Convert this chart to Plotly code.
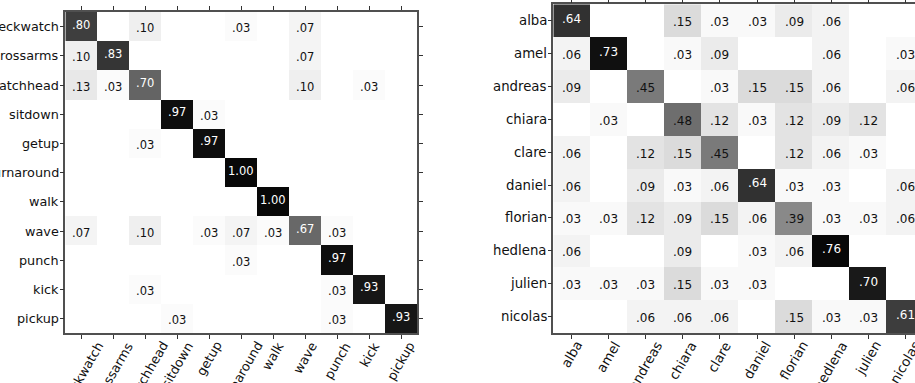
import plotly.graph_objects as go

# Action confusion matrix (rows: true class, columns: predicted class)
actions = ["checkwatch", "crossarms", "scratchhead", "sitdown", "getup",
           "turnaround", "walk", "wave", "punch", "kick", "pickup"]
action_conf = [
    [.80, 0, .10, 0, 0, .03, 0, .07, 0, 0, 0],
    [.10, .83, 0, 0, 0, 0, 0, .07, 0, 0, 0],
    [.13, .03, .70, 0, 0, 0, 0, .10, 0, .03, 0],
    [0, 0, 0, .97, .03, 0, 0, 0, 0, 0, 0],
    [0, 0, .03, 0, .97, 0, 0, 0, 0, 0, 0],
    [0, 0, 0, 0, 0, 1.00, 0, 0, 0, 0, 0],
    [0, 0, 0, 0, 0, 0, 1.00, 0, 0, 0, 0],
    [.07, 0, .10, 0, .03, .07, .03, .67, .03, 0, 0],
    [0, 0, 0, 0, 0, .03, 0, 0, .97, 0, 0],
    [0, 0, .03, 0, 0, 0, 0, 0, .03, .93, 0],
    [0, 0, 0, .03, 0, 0, 0, 0, .03, 0, .93],
]

# Actor confusion matrix
actors = ["alba", "amel", "andreas", "chiara", "clare",
          "daniel", "florian", "hedlena", "julien", "nicolas"]
actor_conf = [
    [.64, 0, 0, .15, .03, .03, .09, .06, 0, 0],
    [.06, .73, 0, .03, .09, 0, 0, .06, 0, .03],
    [.09, 0, .45, 0, .03, .15, .15, .06, 0, .06],
    [0, .03, 0, .48, .12, .03, .12, .09, .12, 0],
    [.06, 0, .12, .15, .45, 0, .12, .06, .03, 0],
    [.06, 0, .09, .03, .06, .64, .03, .03, 0, .06],
    [.03, .03, .12, .09, .15, .06, .39, .03, .03, .06],
    [.06, 0, 0, .09, 0, .03, .06, .76, 0, 0],
    [.03, .03, .03, .15, .03, .03, 0, 0, .70, 0],
    [0, 0, .06, .06, .06, 0, .15, .03, .03, .61],
]

# Reversed gray scale (white for 0, near black for the maximum)
gray_steps = [(0.0, 255), (0.04, 249), (0.10, 239), (0.13, 232), (0.20, 219),
              (0.51, 138), (0.59, 123), (0.63, 110), (0.70, 100), (0.80, 62),
              (0.84, 50), (0.93, 22), (1.0, 8)]
gray_scale = [[t, f"rgb({g},{g},{g})"] for t, g in gray_steps]

FONT = "DejaVu Sans"


def fmt(v):
    s = f"{v:.2f}"
    return s[1:] if s.startswith("0") else s


fig = go.Figure()

panels = [
    dict(labels=actions, z=action_conf, xa="x", ya="y", vmax=1.0,
         tick_size=12.8, cell_size=11.5),
    dict(labels=actors, z=actor_conf, xa="x2", ya="y2",
         vmax=max(max(r) for r in actor_conf),
         tick_size=13.3, cell_size=12),
]

annotations = []
for p in panels:
    fig.add_trace(go.Heatmap(
        z=p["z"], x=p["labels"], y=p["labels"],
        zmin=0, zmax=p["vmax"], colorscale=gray_scale, showscale=False,
        xaxis=p["xa"], yaxis=p["ya"], hoverinfo="skip",
    ))
    label_font = dict(family=FONT, size=p["tick_size"], color="#111111")
    # cell values
    for i, row_name in enumerate(p["labels"]):
        for j, col_name in enumerate(p["labels"]):
            v = p["z"][i][j]
            if v <= 0:
                continue
            dark = v / p["vmax"] > 0.65
            annotations.append(dict(
                x=col_name, y=row_name, xref=p["xa"], yref=p["ya"],
                text=fmt(v), showarrow=False,
                font=dict(family=FONT, size=p["cell_size"],
                          color="white" if dark else "#111111"),
                yshift=2 if dark else -1.5,
            ))
    for name in p["labels"]:
        # rotated column labels, centred under each tick
        annotations.append(dict(
            x=name, y=0, xref=p["xa"], yref=p["ya"] + " domain",
            text=name, showarrow=False, textangle=-60,
            xanchor="center", yanchor="top", yshift=-3,
            font=label_font,
        ))
        # row labels, right-aligned against the left ticks
        annotations.append(dict(
            x=0, y=name, xref=p["xa"] + " domain", yref=p["ya"],
            text=name, showarrow=False,
            xanchor="right", yanchor="middle", xshift=-4,
            font=label_font,
        ))

axis_common = dict(
    type="category", showgrid=False, zeroline=False, automargin=False,
    showline=True, linecolor="#505050", linewidth=1.5,
    ticks="outside", ticklen=4, tickwidth=1, tickcolor="#333333",
    showticklabels=False,
)

fig.update_layout(
    width=915, height=383,
    margin=dict(l=0, r=0, t=0, b=0),
    template="none",
    paper_bgcolor="white", plot_bgcolor="white",
    font=dict(family=FONT, color="#111111"),
    showlegend=False,
    annotations=annotations,
    xaxis=dict(axis_common, domain=[0.0714, 0.4561], anchor="y", mirror="ticks",
               range=[-0.5, 10.5]),
    yaxis=dict(axis_common, domain=[0.1298, 0.9687], anchor="x", mirror="ticks",
               range=[10.5, -0.5]),
    xaxis2=dict(axis_common, domain=[0.6047, 1.0], anchor="y2", mirror="ticks",
                range=[-0.5, 9.265]),
    yaxis2=dict(axis_common, domain=[0.1305, 0.9888], anchor="x2", mirror=False,
                range=[9.5, -0.5]),
)

fig.write_html("out.html")
